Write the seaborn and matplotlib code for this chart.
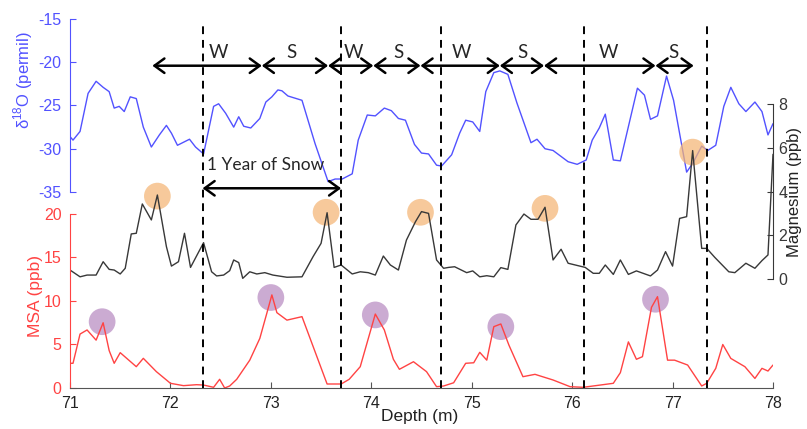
import seaborn as sns
import matplotlib.pyplot as plt

# delta-18O record (permil) vs depth (m)
o_depth = [71.0, 71.03, 71.1, 71.18, 71.26, 71.33, 71.39, 71.44, 71.49, 71.54, 71.6, 71.66, 71.73, 71.81,
           71.89, 71.96, 72.01, 72.07, 72.19, 72.25, 72.33, 72.43, 72.48, 72.55, 72.63, 72.68, 72.73, 72.8,
           72.89, 72.95, 73.01, 73.07, 73.11, 73.17, 73.31, 73.44, 73.57, 73.64, 73.71, 73.81, 73.87, 73.96,
           74.04, 74.13, 74.2, 74.27, 74.34, 74.43, 74.5, 74.57, 74.65, 74.7, 74.8, 74.88, 74.94, 75.01,
           75.08, 75.14, 75.22, 75.28, 75.36, 75.45, 75.59, 75.65, 75.73, 75.81, 75.96, 76.05, 76.14, 76.2,
           76.27, 76.33, 76.41, 76.48, 76.65, 76.72, 76.78, 76.85, 76.94, 77.01, 77.14, 77.2, 77.29, 77.35,
           77.43, 77.51, 77.58, 77.66, 77.73, 77.82, 77.89, 77.95, 78.0]
o_vals = [-28.6, -29.0, -28.0, -23.6, -22.2, -22.9, -23.4, -25.3, -25.1, -25.7, -24.0, -24.2, -27.5, -29.8,
          -28.4, -27.3, -28.2, -29.6, -28.9, -29.8, -30.6, -25.1, -24.8, -25.9, -27.5, -26.3, -27.4, -27.6,
          -26.5, -24.6, -24.0, -23.2, -23.3, -23.9, -24.4, -29.4, -33.8, -33.5, -33.5, -32.9, -29.0, -26.1,
          -26.2, -25.3, -25.6, -26.5, -26.7, -29.5, -30.5, -30.6, -31.9, -32.0, -30.7, -28.2, -26.7, -26.9,
          -28.0, -23.4, -21.2, -21.0, -21.4, -24.7, -29.3, -28.9, -30.0, -30.2, -31.5, -31.8, -31.3, -29.0,
          -27.6, -26.0, -31.3, -31.4, -23.0, -23.8, -26.6, -26.2, -21.6, -24.4, -32.7, -31.7, -29.7, -30.2,
          -29.6, -25.1, -22.9, -24.8, -25.7, -24.6, -25.7, -28.4, -27.1]

# magnesium (ppb)
mg_depth = [71.0, 71.1, 71.17, 71.26, 71.33, 71.39, 71.44, 71.5, 71.55, 71.61, 71.66, 71.72, 71.81, 71.87,
            71.96, 72.01, 72.08, 72.14, 72.2, 72.33, 72.41, 72.46, 72.53, 72.59, 72.63, 72.68, 72.72, 72.79,
            72.86, 72.94, 73.02, 73.16, 73.31, 73.42, 73.5, 73.56, 73.63, 73.7, 73.81, 73.89, 73.97, 74.04,
            74.12, 74.19, 74.27, 74.35, 74.44, 74.5, 74.57, 74.65, 74.72, 74.77, 74.83, 74.95, 75.01, 75.08,
            75.15, 75.22, 75.29, 75.36, 75.44, 75.52, 75.59, 75.66, 75.73, 75.81, 75.89, 75.96, 76.13, 76.21,
            76.27, 76.33, 76.41, 76.48, 76.56, 76.64, 76.78, 76.85, 76.93, 77.0, 77.07, 77.14, 77.2, 77.29,
            77.34, 77.42, 77.56, 77.62, 77.73, 77.82, 77.89, 77.95, 78.0]
mg_vals = [0.41, 0.1, 0.18, 0.18, 0.79, 0.44, 0.41, 0.23, 0.49, 2.06, 2.09, 3.43, 2.7, 3.84,
           1.48, 0.59, 0.79, 2.09, 0.53, 1.66, 0.33, 0.14, 0.18, 0.38, 0.87, 0.75, 0.03, 0.33,
           0.23, 0.29, 0.18, 0.08, 0.1, 1.02, 1.63, 3.03, 0.53, 0.64, 0.23, 0.33, 0.29, 0.18,
           1.05, 0.64, 0.41, 1.78, 2.62, 3.08, 3.0, 0.87, 0.49, 0.53, 0.56, 0.29, 0.37, 0.1,
           0.15, 0.1, 0.52, 0.44, 2.47, 2.97, 2.73, 2.73, 3.28, 0.87, 1.36, 0.72, 0.53, 0.26,
           0.26, 0.64, 0.21, 0.87, 0.21, 0.37, 0.14, 0.41, 1.25, 0.59, 2.77, 2.85, 5.87, 1.4,
           1.4, 0.99, 0.33, 0.29, 0.72, 0.49, 0.84, 1.1, 5.7]

# MSA (ppb)
msa_depth = [71.0, 71.03, 71.1, 71.17, 71.26, 71.33, 71.39, 71.44, 71.5, 71.66, 71.73, 71.86, 72.0, 72.13,
             72.26, 72.33, 72.43, 72.49, 72.54, 72.59, 72.66, 72.79, 72.89, 72.96, 73.01, 73.06, 73.16, 73.31,
             73.56, 73.7, 73.78, 73.89, 74.04, 74.13, 74.22, 74.28, 74.42, 74.55, 74.65, 74.72, 74.82, 74.94,
             75.02, 75.08, 75.15, 75.22, 75.29, 75.37, 75.51, 75.63, 75.81, 75.98, 76.11, 76.28, 76.41, 76.48,
             76.56, 76.64, 76.7, 76.79, 76.85, 76.95, 77.02, 77.15, 77.29, 77.34, 77.43, 77.5, 77.58, 77.72,
             77.82, 77.89, 77.95, 78.0]
msa_vals = [2.84, 2.84, 6.2, 6.67, 5.5, 7.5, 4.3, 2.84, 4.06, 2.45, 3.41, 1.88, 0.54, 0.27,
            0.38, 0.34, 0.08, 1.0, 0.0, 0.23, 1.0, 3.2, 5.7, 8.6, 10.7, 8.66, 7.8, 8.2,
            0.46, 0.46, 1.0, 2.45, 8.5, 6.67, 3.3, 2.15, 3.02, 1.88, 0.15, 0.23, 0.6, 2.84,
            2.9, 4.1, 3.2, 7.05, 7.36, 4.94, 1.3, 1.57, 0.92, 0.15, 0.08, 0.34, 0.54, 1.76,
            5.3, 3.3, 3.6, 9.27, 10.5, 3.2, 3.2, 2.64, 0.23, 0.54, 2.26, 5.0, 3.4, 2.45,
            1.1, 2.26, 1.95, 2.64]

# highlighted peaks
mg_peak_depth = [71.87, 73.55, 74.49, 75.73, 77.2]
mg_peak_vals = [3.79, 3.05, 3.05, 3.23, 5.8]
msa_peak_depth = [71.32, 73.0, 74.04, 75.29, 76.83]
msa_peak_vals = [7.62, 10.4, 8.4, 7.05, 10.2]

# annual layers and seasons
year_edges = [72.32, 73.70, 74.69, 76.12, 77.34]
season_edges = [71.82, 72.91, 73.57, 74.02, 74.49, 75.28, 75.72, 76.83, 77.21]
season_labels = ['W', 'S', 'W', 'S', 'W', 'S', 'W', 'S']
season_label_x = [72.48, 73.21, 73.82, 74.27, 74.90, 75.51, 76.36, 77.01]

depth_ticks = [71, 72, 73, 74, 75, 76, 77, 78]

BLUE = '#5252ff'
RED = '#ff4343'
DARK = '#383838'

sns.set_style('white')
plt.rcParams['font.family'] = ['Liberation Sans', 'DejaVu Sans']
plt.rcParams['mathtext.fontset'] = 'custom'
plt.rcParams['mathtext.rm'] = 'Liberation Sans'
plt.rcParams['axes.unicode_minus'] = False

fig = plt.figure(figsize=(8.07, 4.29), dpi=100)
rect = [70 / 807, 41 / 429, 703 / 807, 369 / 429]
ax_o = fig.add_axes(rect)
ax_m = fig.add_axes(rect, sharex=ax_o)
ax_s = fig.add_axes(rect, sharex=ax_o)
for ax in (ax_m, ax_s):
    ax.patch.set_visible(False)

# lines + circles
sns.lineplot(x=o_depth, y=o_vals, ax=ax_o, color=BLUE, lw=1, sort=False, estimator=None)
sns.scatterplot(x=mg_peak_depth, y=mg_peak_vals, ax=ax_m, s=370, color='#f4b575', alpha=0.72,
                edgecolor='none', zorder=1)
sns.lineplot(x=mg_depth, y=mg_vals, ax=ax_m, color=DARK, lw=1, sort=False, estimator=None)
sns.scatterplot(x=msa_peak_depth, y=msa_peak_vals, ax=ax_s, s=370, color='#b07fbb', alpha=0.65,
                edgecolor='none', zorder=1)
sns.lineplot(x=msa_depth, y=msa_vals, ax=ax_s, color=RED, lw=1, sort=False, estimator=None)

# axes limits so the three panels stack
ax_o.set_xlim(71, 78)
ax_o.set_ylim(-57.66, -15)
ax_s.set_ylim(0, 42.41)
ax_m.set_ylim(-4.983, 11.886)

ax_o.set_yticks([-35, -30, -25, -20, -15])
ax_s.set_yticks([0, 5, 10, 15, 20])
ax_m.set_yticks([0, 2, 4, 6, 8])
ax_s.set_xticks(depth_ticks)

for ax in (ax_o, ax_m, ax_s):
    for sp in ax.spines.values():
        sp.set_visible(False)
    ax.grid(False)

ax_o.spines['left'].set_visible(True)
ax_o.spines['left'].set_color(BLUE)
ax_o.spines['left'].set_bounds(-35, -15)
ax_s.spines['left'].set_visible(True)
ax_s.spines['left'].set_color(RED)
ax_s.spines['left'].set_bounds(0, 20)
ax_s.spines['bottom'].set_visible(True)
ax_s.spines['bottom'].set_color('#555555')
ax_m.spines['right'].set_visible(True)
ax_m.spines['right'].set_color(DARK)
ax_m.spines['right'].set_bounds(0, 8)
ax_m.yaxis.tick_right()
ax_m.yaxis.set_label_position('right')

ax_o.tick_params(axis='x', bottom=False, labelbottom=False)
ax_m.tick_params(axis='x', bottom=False, labelbottom=False)
ax_o.tick_params(axis='y', direction='in', length=4, colors=BLUE, labelsize=11.5, pad=6, left=True)
ax_s.tick_params(axis='y', direction='in', length=4, colors=RED, labelsize=11.5, pad=6, left=True)
ax_m.tick_params(axis='y', direction='in', length=4, colors=DARK, labelsize=11.5, pad=4, right=True,
                 left=False, labelleft=False, labelright=True)
ax_s.tick_params(axis='x', direction='in', length=4, colors='#555555', labelcolor='#222222',
                 labelsize=11.5, pad=6, bottom=True)

ax_o.set_xlabel('')
ax_m.set_xlabel('')
ax_o.set_ylabel('δ$^{18}$O (permil)', color=BLUE, fontsize=12)
ax_o.yaxis.set_label_coords(-0.05, 0.835)
ax_s.set_ylabel('MSA (ppb)', color=RED, fontsize=12.5)
ax_s.yaxis.set_label_coords(-0.038, 0.25)
ax_m.set_ylabel('Magnesium (ppb)', color='#222222', fontsize=12)
ax_m.yaxis.set_label_coords(1.02, 0.53)
ax_s.set_xlabel('Depth (m)', color='#222222', fontsize=12.5)
ax_s.xaxis.set_label_coords(0.498, -0.058)

# annual boundaries
for d in year_edges:
    ax_s.axvline(d, ymin=0, ymax=0.984, color='black', ls=(0, (4, 3)), lw=1.4, zorder=5)

# season arrows
arrow_kw = dict(arrowstyle='<->,head_length=0.55,head_width=0.4', color='black', lw=1.8,
                shrinkA=0, shrinkB=0, mutation_scale=13)
for a, b in zip(season_edges[:-1], season_edges[1:]):
    ax_s.annotate('', xy=(b, -20.4), xytext=(a, -20.4), xycoords=ax_o.transData,
                  textcoords=ax_o.transData, arrowprops=arrow_kw)
for lx, lab in zip(season_label_x, season_labels):
    ax_s.text(lx, -18.9, lab, transform=ax_o.transData, ha='center', va='center',
              fontsize=13.5, family=['Lato', 'DejaVu Sans'])

ax_s.annotate('', xy=(year_edges[1], -34.57), xytext=(year_edges[0], -34.57), xycoords=ax_o.transData,
              textcoords=ax_o.transData, arrowprops=arrow_kw)
ax_s.text(year_edges[0] + 0.04, -31.9, '1 Year of Snow', transform=ax_o.transData, ha='left',
          va='center', fontsize=12.5, family=['Lato', 'DejaVu Sans'])

fig.savefig('out.png', dpi=100)
